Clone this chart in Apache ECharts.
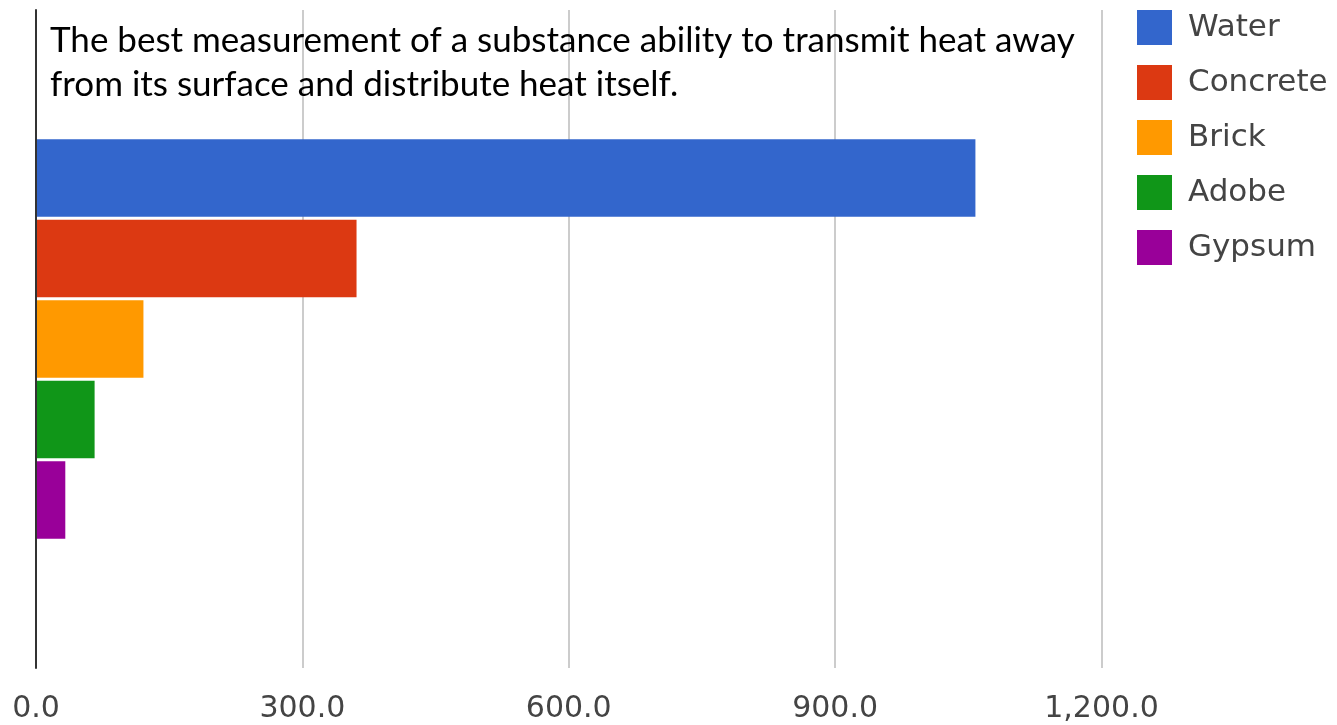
<!DOCTYPE html>
<html>
<head>
<meta charset="utf-8">
<script src="https://cdn.jsdelivr.net/npm/echarts@6/dist/echarts.min.js"></script>
<style>
  html, body { margin: 0; padding: 0; background: #fff; }
  #chart { width: 1337px; height: 725px; }
</style>
</head>
<body>
<div id="chart"></div>
<script>
// Thermal conductivity comparison, one bar per material
const materials = ['Water', 'Concrete', 'Brick', 'Adobe', 'Gypsum'];
const values = [1058, 361, 121, 66, 33];
const colors = ['#3366cc', '#dc3912', '#ff9900', '#109618', '#990099'];
const xTicks = { min: 0, max: 1200, interval: 300 };
const titleText = 'The best measurement of a substance ability to transmit heat away\nfrom its surface and distribute heat itself.';

const chart = echarts.init(document.getElementById('chart'));

const series = materials.map((name, i) => ({
  name: name,
  type: 'bar',
  data: [values[i]],
  itemStyle: { color: colors[i] },
  barGap: '4%',
  barCategoryGap: '39.3%',
  z: 2
}));

function fmt(v) {
  const s = v.toFixed(1);
  const parts = s.split('.');
  parts[0] = parts[0].replace(/\B(?=(\d{3})+(?!\d))/g, ',');
  return parts.join('.');
}

chart.setOption({
  animation: false,
  backgroundColor: '#ffffff',
  color: colors,
  title: {
    text: titleText,
    left: 50,
    top: 19,
    padding: 0,
    z: 10,
    textStyle: {
      fontFamily: 'Lato',
      fontWeight: 'normal',
      fontSize: 35,
      lineHeight: 44,
      color: '#000000'
    }
  },
  legend: {
    orient: 'vertical',
    left: 1137,
    top: 10,
    padding: 0,
    itemWidth: 35,
    itemHeight: 35,
    itemGap: 20,
    icon: 'rect',
    data: materials,
    textStyle: {
      fontFamily: 'DejaVu Sans',
      fontSize: 31,
      color: '#444444',
      padding: [4, 0, 0, 11]
    }
  },
  grid: {
    left: 36,
    right: 235.5,
    top: 10,
    bottom: 57,
    containLabel: false
  },
  xAxis: {
    type: 'value',
    min: xTicks.min,
    max: xTicks.max,
    interval: xTicks.interval,
    axisLine: { show: false },
    axisTick: { show: false },
    splitLine: { show: true, lineStyle: { color: '#cccccc', width: 2 } },
    axisLabel: {
      margin: 26,
      fontFamily: 'DejaVu Sans',
      fontSize: 30,
      color: '#444444',
      formatter: fmt
    }
  },
  yAxis: {
    type: 'category',
    inverse: true,
    data: [''],
    axisLine: { show: true, lineStyle: { color: '#333333', width: 2 } },
    axisTick: { show: false },
    axisLabel: { show: false },
    z: 5
  },
  series: series
});
</script>
</body>
</html>
